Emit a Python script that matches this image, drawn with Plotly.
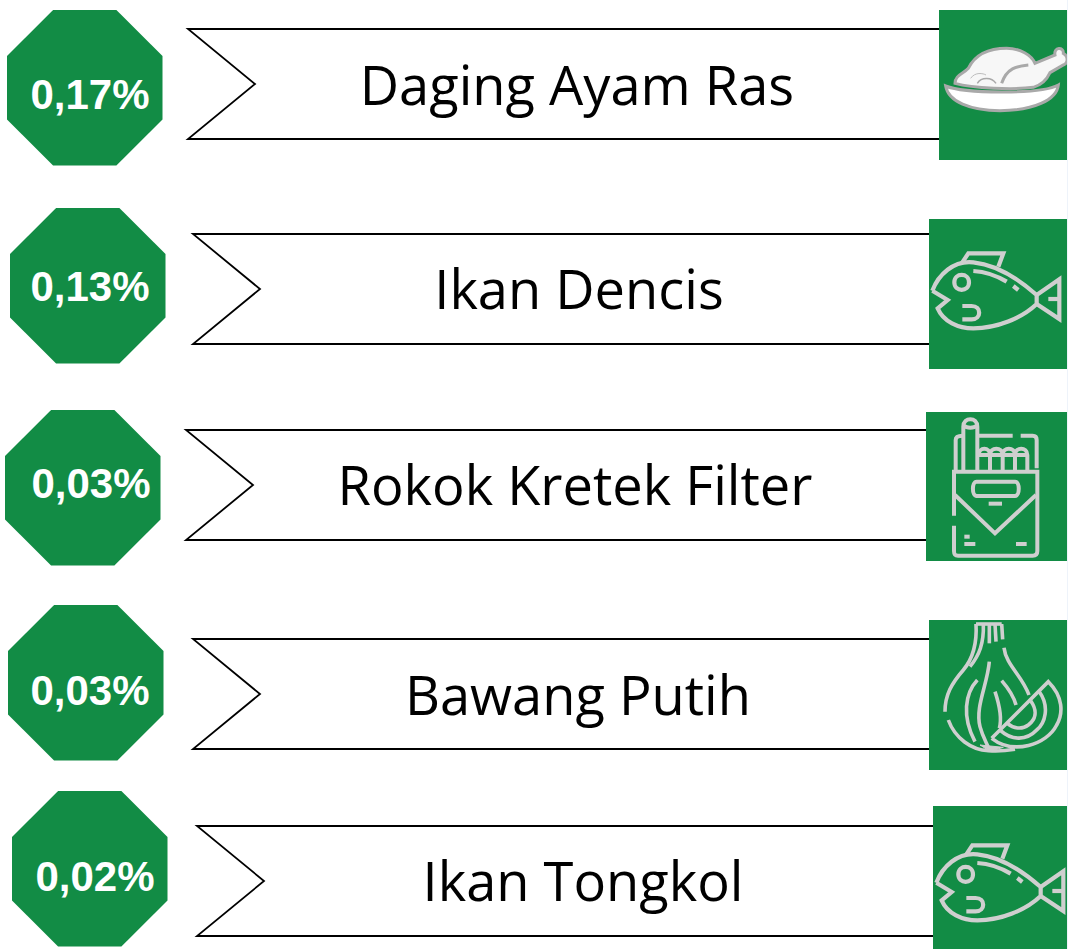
import plotly.graph_objects as go

# ---- data ----
categories = ["Daging Ayam Ras", "Ikan Dencis", "Rokok Kretek Filter", "Bawang Putih", "Ikan Tongkol"]
values = ["0,17%", "0,13%", "0,03%", "0,03%", "0,02%"]
icons = ["chicken", "fish", "cigarettes", "garlic", "fish"]

# ---- layout of each row ----
oct_x = [7, 10, 5, 8, 12]
oct_y = [10, 208, 410, 605, 791]
oct_size = 155.5
val_x = [90, 90, 91, 90, 95]
val_y = [98, 290, 487, 694, 880]
rib_left = [188, 193, 186, 193, 197]
rib_top = [29, 234, 430, 639, 826]
rib_h = 110
notch = 67
tile_x = [939, 929, 926, 929, 933]
tile_y = [10, 219, 412, 620, 806]
tile_b = [160, 369, 561, 770, 949]
lab_x = [577, 579, 575, 578, 583]
lab_y = [91, 295, 491, 701, 887]
# origin of the icon drawing (sketch units / 3)
icon_off = [(900, 0), (900, 210), (900, 405), (900, 610), (904, 802)]

GREEN = "#128C45"
ICON = "#CFCFCF"
W, H = 1068, 949

shapes = []


def tf(path, ox, oy):
    """Sketch paths are written at 3x scale; map to the page."""
    out, i = [], 0
    toks = path.split()
    while i < len(toks):
        t = toks[i]
        if t.isalpha():
            out.append(t)
            i += 1
        else:
            out.append(f"{float(t)/3+ox:.2f},{float(toks[i+1])/3+oy:.2f}")
            i += 2
    return " ".join(out)


def add(path, ox, oy, color=ICON, width=4.2, fill=None):
    s = dict(type="path", path=tf(path, ox, oy), xref="x", yref="y",
             line=dict(color=color, width=width))
    if fill:
        s["fillcolor"] = fill
    shapes.append(s)


FISH = [
    "M 97 242 L 143 270 L 113 295 C 130 335 175 355 220 355 C 290 355 365 325 410 282 L 410 255 C 365 215 300 165 220 157 C 160 150 115 195 97 242",
    "M 410 255 L 478 208 L 478 327 L 410 282",
    "M 445 267 L 478 267",
    "M 185 160 L 205 130 L 310 130 L 295 170",
    "M 163 217 C 163 187 207 187 207 217 C 207 247 163 247 163 217",
    "M 187 288 L 215 288 C 245 288 245 328 215 328 L 187 328",
    "M 220 183 C 255 185 290 197 320 215",
    "M 340 228 L 355 240",
]

CIG = [
    "M 162 332 L 162 200 L 412 200 L 412 438 C 412 448 408 452 398 452 L 174 452 C 164 452 162 448 162 438 L 162 362",
    "M 165 270 L 285 385 L 408 270",
    "M 230 230 L 345 230 C 360 230 360 273 345 273 L 230 273 C 215 273 215 230 230 230",
    "M 266 296 L 306 296",
    "M 193 395 L 209 395",
    "M 193 417 L 226 417",
    "M 348 417 L 380 417",
    "M 167 195 L 167 105 C 167 95 175 92 188 92",
    "M 236 92 L 338 92",
    "M 362 92 L 398 92 C 406 92 410 97 410 105 L 410 190",
    "M 190 195 L 190 65 C 190 35 232 35 232 65 L 232 195",
    "M 192 62 C 200 70 222 70 230 62",
    "M 232 150 L 382 150",
    "M 236 150 C 236 125 270 125 270 150 C 270 125 308 125 308 150 C 308 125 345 125 345 150 C 345 125 382 125 382 150 L 382 195",
    "M 270 150 L 270 195",
    "M 308 150 L 308 195",
    "M 345 150 L 345 195",
]

GARLIC = [
    "M 228 42 L 305 42",
    "M 228 42 C 232 110 215 150 190 180 C 155 220 135 255 135 305",
    "M 145 330 C 165 385 215 420 265 422 C 285 424 320 422 345 418",
    "M 250 42 C 252 100 238 135 210 170",
    "M 285 42 L 288 95" ,
    "M 268 42 L 268 100",
    "M 305 42 L 308 88",
    "M 312 113 C 318 165 365 195 387 255",
    "M 268 155 C 262 225 225 290 240 350 C 248 380 258 395 265 412",
    "M 232 210 C 195 250 185 320 225 395",
    "M 305 212 C 325 235 340 255 348 285",
    "M 285 245 C 300 290 305 330 298 355",
    "M 275 385 L 445 215 C 490 260 490 310 470 345 C 440 405 340 435 275 385",
    "M 418 245 C 450 290 435 340 410 360 C 380 392 335 392 302 362",
    "M 392 272 C 415 305 405 330 385 345 C 365 360 340 355 322 340",
]


def draw_garlic_fill(ox, oy):
    shapes.append(dict(type="path", path=tf("M 240 405 L 310 412 L 270 424 Z", ox, oy), xref="x", yref="y",
                       line=dict(color=ICON, width=1), fillcolor=ICON))


def draw_chicken(ox, oy):
    bowl_outer = "M 137 258 C 190 280 420 285 475 255 C 470 300 400 332 300 332 C 210 332 145 305 137 258 Z"
    body = ("M 165 250 C 165 225 190 222 205 205 C 225 165 265 145 320 145 C 360 145 395 165 405 190 "
            "L 465 165 C 460 140 492 140 490 160 C 505 168 505 190 490 195 L 450 218 C 440 240 425 255 400 262 "
            "C 340 270 220 265 165 250 Z")
    add(body, ox, oy, color="#A9A9A9", width=3, fill="#F7F7F7")
    add(bowl_outer, ox, oy, color="#A9A9A9", width=3, fill="#FFFFFF")
    add("M 305 250 C 320 205 350 198 385 195", ox, oy, color="#A9A9A9", width=3)
    add("M 212 235 C 225 215 250 220 258 225", ox, oy, color="#BDBDBD", width=1)
    add("M 232 250 C 245 230 275 232 288 250", ox, oy, color="#A9A9A9", width=1.5)


for i in range(len(categories)):
    # octagon
    x0, y0, s = oct_x[i], oct_y[i], oct_size
    c = s * 0.2965
    p = [(x0 + c, y0), (x0 + s - c, y0), (x0 + s, y0 + c), (x0 + s, y0 + s - c),
         (x0 + s - c, y0 + s), (x0 + c, y0 + s), (x0, y0 + s - c), (x0, y0 + c)]
    shapes.append(dict(type="path", xref="x", yref="y", fillcolor=GREEN, line=dict(width=0),
                       path="M " + " L ".join(f"{a:.1f},{b:.1f}" for a, b in p) + " Z"))
    # ribbon
    l, t = rib_left[i], rib_top[i]
    r = tile_x[i] + 2
    shapes.append(dict(type="path", xref="x", yref="y", line=dict(color="#000000", width=1.8),
                       fillcolor="#FFFFFF",
                       path=f"M {l},{t} L {r},{t} L {r},{t+rib_h} L {l},{t+rib_h} L {l+notch},{t+rib_h/2} Z"))
    # tile
    shapes.append(dict(type="rect", xref="x", yref="y", x0=tile_x[i], x1=1067, y0=tile_y[i], y1=tile_b[i],
                       fillcolor=GREEN, line=dict(width=0)))
    # icon
    ox, oy = icon_off[i]
    if icons[i] == "fish":
        for d in FISH:
            add(d, ox, oy)
    elif icons[i] == "cigarettes":
        for d in CIG:
            add(d, ox, oy, width=4)
    elif icons[i] == "garlic":
        for d in GARLIC:
            add(d, ox, oy, width=3.6)
        draw_garlic_fill(ox, oy)
    else:
        draw_chicken(ox, oy)

shapes.append(dict(type="rect", xref="x", yref="y", x0=1067, x1=1068, y0=0, y1=949,
                   fillcolor="#EEF3FA", line=dict(width=0)))

fig = go.Figure()
fig.add_trace(go.Scatter(x=lab_x, y=lab_y, mode="text", text=categories, textposition="middle center",
                         textfont=dict(family="Open Sans", size=54.2, color="#000000"), hoverinfo="skip"))
fig.add_trace(go.Scatter(x=val_x, y=val_y, mode="text", text=values, textposition="middle center",
                         textfont=dict(family="Liberation Sans", size=42, color="#FFFFFF", weight="bold"), hoverinfo="skip"))
fig.update_layout(
    width=W, height=H, autosize=False, showlegend=False,
    margin=dict(l=0, r=0, t=0, b=0), paper_bgcolor="#FFFFFF", plot_bgcolor="#FFFFFF",
    xaxis=dict(range=[0, W], visible=False, fixedrange=True),
    yaxis=dict(range=[H, 0], visible=False, fixedrange=True),
    shapes=[dict(s, layer="below") for s in shapes],
)
fig.write_html("out.html", config=dict(displayModeBar=False),
               post_script="document.body.style.margin='0';document.body.style.overflow='hidden';")
